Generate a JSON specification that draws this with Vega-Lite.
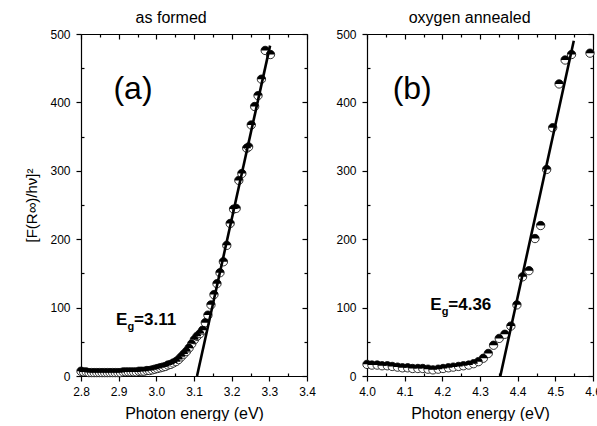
{
  "$schema": "https://vega.github.io/schema/vega-lite/v6.json",
  "padding": {"left": 24, "top": 10, "right": 0, "bottom": 0},
  "spacing": 19,
  "datasets": {
    "a": [
      {"E":2.800,"F":7},{"E":2.807,"F":6},{"E":2.814,"F":6},{"E":2.821,"F":5},{"E":2.828,"F":5},{"E":2.835,"F":5},{"E":2.842,"F":5},{"E":2.849,"F":5},{"E":2.856,"F":5},{"E":2.863,"F":5},{"E":2.870,"F":5},{"E":2.877,"F":5},{"E":2.884,"F":5},{"E":2.891,"F":5},{"E":2.898,"F":5},{"E":2.905,"F":5},{"E":2.912,"F":6},{"E":2.919,"F":6},{"E":2.926,"F":6},{"E":2.933,"F":6},{"E":2.940,"F":6},{"E":2.947,"F":6},{"E":2.954,"F":7},{"E":2.961,"F":7},{"E":2.968,"F":7},{"E":2.975,"F":8},{"E":2.982,"F":8},{"E":2.989,"F":9},{"E":2.996,"F":10},{"E":3.003,"F":11},{"E":3.010,"F":12},{"E":3.017,"F":13},{"E":3.024,"F":14},{"E":3.031,"F":16},{"E":3.038,"F":17},{"E":3.045,"F":19},{"E":3.052,"F":21},{"E":3.059,"F":24},{"E":3.066,"F":28},{"E":3.073,"F":32},{"E":3.080,"F":36},{"E":3.087,"F":41},{"E":3.094,"F":47},{"E":3.101,"F":53},{"E":3.108,"F":58},{"E":3.116,"F":62},{"E":3.123,"F":67},{"E":3.130,"F":78},{"E":3.137,"F":89},{"E":3.145,"F":104},{"E":3.153,"F":119},{"E":3.161,"F":135},{"E":3.169,"F":151},{"E":3.178,"F":167},{"E":3.187,"F":191},{"E":3.196,"F":223},{"E":3.205,"F":244},{"E":3.212,"F":245},{"E":3.219,"F":286},{"E":3.227,"F":296},{"E":3.240,"F":333},{"E":3.245,"F":335},{"E":3.252,"F":367},{"E":3.261,"F":394},{"E":3.270,"F":410},{"E":3.279,"F":434},{"E":3.289,"F":476},{"E":3.303,"F":470}
    ],
    "b": [
      {"E":4.000,"F":17},{"E":4.013,"F":16},{"E":4.027,"F":16},{"E":4.040,"F":15},{"E":4.054,"F":15},{"E":4.067,"F":14},{"E":4.081,"F":13},{"E":4.094,"F":12},{"E":4.108,"F":12},{"E":4.121,"F":11},{"E":4.135,"F":11},{"E":4.148,"F":11},{"E":4.162,"F":10},{"E":4.175,"F":9},{"E":4.189,"F":10},{"E":4.202,"F":11},{"E":4.216,"F":12},{"E":4.229,"F":13},{"E":4.243,"F":14},{"E":4.256,"F":15},{"E":4.270,"F":16},{"E":4.283,"F":18},{"E":4.296,"F":21},{"E":4.309,"F":26},{"E":4.322,"F":33},{"E":4.336,"F":45},{"E":4.351,"F":55},{"E":4.366,"F":61},{"E":4.382,"F":73},{"E":4.398,"F":104},{"E":4.413,"F":145},{"E":4.430,"F":154},{"E":4.446,"F":201},{"E":4.461,"F":220},{"E":4.477,"F":302},{"E":4.493,"F":363},{"E":4.510,"F":427},{"E":4.526,"F":462},{"E":4.543,"F":470},{"E":4.592,"F":472}
    ],
    "fitA": [{"E":3.108,"F":0},{"E":3.302,"F":483}],
    "fitB": [{"E":4.354,"F":0},{"E":4.549,"F":490}],
    "labA": [{"E":2.938,"F":420,"t":"(a)"}],
    "labB": [{"E":4.120,"F":420,"t":"(b)"}],
    "egA": [{"E":2.893,"F":74,"t":"E","s":"g","r":"=3.11"}],
    "egB": [{"E":4.168,"F":97,"t":"E","s":"g","r":"=4.36"}]
  },
  "hconcat": [
    {
      "width": 226,
      "height": 342,
      "title": {"text": "as formed", "fontSize": 16, "fontWeight": "normal", "offset": 2, "frame": "bounds", "dx": 1},
      "resolve": {"axis": {"x": "independent", "y": "independent"}},
      "layer": [
        {
          "data": {"name": "a"},
          "mark": {"type": "point", "shape": "circle", "filled": true, "fill": "white", "stroke": "black", "strokeWidth": 0.8, "size": 70, "opacity": 1},
          "encoding": {
            "x": {"field": "E", "type": "quantitative", "scale": {"domain": [2.8, 3.4], "nice": false, "zero": false},
              "axis": {"orient": "bottom", "title": "Photon energy (eV)", "values": [2.8,2.85,2.9,2.95,3.0,3.05,3.1,3.15,3.2,3.25,3.3,3.35,3.4],
                "labelExpr": "abs(datum.value*10 - round(datum.value*10)) < 0.01 ? format(datum.value, '.1f') : ''",
                "tickSize": {"condition": {"test": "abs(datum.value*10 - round(datum.value*10)) < 0.01", "value": 5}, "value": -3},
                "labelPadding": 5, "titlePadding": 8, "labelFlush": false, "labelOverlap": false}},
            "y": {"field": "F", "type": "quantitative", "scale": {"domain": [0, 500], "nice": false},
              "axis": {"orient": "left", "title": "[F(R∞)/hν]²", "titleFontSize": 15, "values": [0,50,100,150,200,250,300,350,400,450,500],
                "labelExpr": "datum.value % 100 == 0 ? format(datum.value, 'd') : ''",
                "tickSize": {"condition": {"test": "datum.value % 100 == 0", "value": 5}, "value": -3},
                "labelPadding": 6, "titlePadding": 10, "labelFlush": false, "labelOverlap": false}}
          }
        },
        {
          "data": {"name": "a"},
          "mark": {"type": "point", "shape": "M-1,0A1,1 0 0 1 1,0Z", "filled": true, "fill": "black", "strokeWidth": 0, "size": 70, "opacity": 1},
          "encoding": {
            "x": {"field": "E", "type": "quantitative",
              "axis": {"orient": "top", "title": null, "labels": false, "values": [2.8,2.85,2.9,2.95,3.0,3.05,3.1,3.15,3.2,3.25,3.3,3.35,3.4],
                "tickSize": {"condition": {"test": "abs(datum.value*10 - round(datum.value*10)) < 0.01", "value": -5}, "value": -3}}},
            "y": {"field": "F", "type": "quantitative",
              "axis": {"orient": "right", "title": null, "labels": false, "values": [0,50,100,150,200,250,300,350,400,450,500],
                "tickSize": {"condition": {"test": "datum.value % 100 == 0", "value": -5}, "value": -3}}}
          }
        },
        {
          "data": {"name": "fitA"},
          "mark": {"type": "line", "color": "black", "strokeWidth": 2.6},
          "encoding": {
            "x": {"field": "E", "type": "quantitative", "axis": null},
            "y": {"field": "F", "type": "quantitative", "axis": null}
          }
        },
        {
          "data": {"name": "labA"},
          "mark": {"type": "text", "fontSize": 32, "align": "center", "baseline": "middle", "color": "black"},
          "encoding": {
            "x": {"field": "E", "type": "quantitative", "axis": null},
            "y": {"field": "F", "type": "quantitative", "axis": null},
            "text": {"field": "t"}
          }
        },
        {
          "data": {"name": "egA"},
          "mark": {"type": "text", "fontSize": 17, "fontWeight": "bold", "align": "left", "baseline": "alphabetic", "color": "black"},
          "encoding": {
            "x": {"field": "E", "type": "quantitative", "axis": null},
            "y": {"field": "F", "type": "quantitative", "axis": null},
            "text": {"field": "t"}
          }
        },
        {
          "data": {"name": "egA"},
          "mark": {"type": "text", "fontSize": 11, "fontWeight": "bold", "align": "left", "baseline": "alphabetic", "dx": 11.5, "dy": 5, "color": "black"},
          "encoding": {
            "x": {"field": "E", "type": "quantitative", "axis": null},
            "y": {"field": "F", "type": "quantitative", "axis": null},
            "text": {"field": "s"}
          }
        },
        {
          "data": {"name": "egA"},
          "mark": {"type": "text", "fontSize": 17, "fontWeight": "bold", "align": "left", "baseline": "alphabetic", "dx": 18, "color": "black"},
          "encoding": {
            "x": {"field": "E", "type": "quantitative", "axis": null},
            "y": {"field": "F", "type": "quantitative", "axis": null},
            "text": {"field": "r"}
          }
        }
      ]
    },
    {
      "width": 226,
      "height": 342,
      "title": {"text": "oxygen annealed", "fontSize": 16, "fontWeight": "normal", "offset": 2, "frame": "bounds", "dx": 1},
      "resolve": {"axis": {"x": "independent", "y": "independent"}},
      "layer": [
        {
          "data": {"name": "b"},
          "mark": {"type": "point", "shape": "circle", "filled": true, "fill": "white", "stroke": "black", "strokeWidth": 0.8, "size": 70, "opacity": 1},
          "encoding": {
            "x": {"field": "E", "type": "quantitative", "scale": {"domain": [4.0, 4.6], "nice": false, "zero": false},
              "axis": {"orient": "bottom", "title": "Photon energy (eV)", "values": [4.0,4.05,4.1,4.15,4.2,4.25,4.3,4.35,4.4,4.45,4.5,4.55,4.6],
                "labelExpr": "abs(datum.value*10 - round(datum.value*10)) < 0.01 ? format(datum.value, '.1f') : ''",
                "tickSize": {"condition": {"test": "abs(datum.value*10 - round(datum.value*10)) < 0.01", "value": 5}, "value": -3},
                "labelPadding": 5, "titlePadding": 8, "labelFlush": false, "labelOverlap": false}},
            "y": {"field": "F", "type": "quantitative", "scale": {"domain": [0, 500], "nice": false},
              "axis": {"orient": "left", "title": null, "values": [0,50,100,150,200,250,300,350,400,450,500],
                "labelExpr": "datum.value % 100 == 0 ? format(datum.value, 'd') : ''",
                "tickSize": {"condition": {"test": "datum.value % 100 == 0", "value": 5}, "value": -3},
                "labelPadding": 6, "labelFlush": false, "labelOverlap": false}}
          }
        },
        {
          "data": {"name": "b"},
          "mark": {"type": "point", "shape": "M-1,0A1,1 0 0 1 1,0Z", "filled": true, "fill": "black", "strokeWidth": 0, "size": 70, "opacity": 1},
          "encoding": {
            "x": {"field": "E", "type": "quantitative",
              "axis": {"orient": "top", "title": null, "labels": false, "values": [4.0,4.05,4.1,4.15,4.2,4.25,4.3,4.35,4.4,4.45,4.5,4.55,4.6],
                "tickSize": {"condition": {"test": "abs(datum.value*10 - round(datum.value*10)) < 0.01", "value": -5}, "value": -3}}},
            "y": {"field": "F", "type": "quantitative",
              "axis": {"orient": "right", "title": null, "labels": false, "values": [0,50,100,150,200,250,300,350,400,450,500],
                "tickSize": {"condition": {"test": "datum.value % 100 == 0", "value": -5}, "value": -3}}}
          }
        },
        {
          "data": {"name": "fitB"},
          "mark": {"type": "line", "color": "black", "strokeWidth": 2.6},
          "encoding": {
            "x": {"field": "E", "type": "quantitative", "axis": null},
            "y": {"field": "F", "type": "quantitative", "axis": null}
          }
        },
        {
          "data": {"name": "labB"},
          "mark": {"type": "text", "fontSize": 32, "align": "center", "baseline": "middle", "color": "black"},
          "encoding": {
            "x": {"field": "E", "type": "quantitative", "axis": null},
            "y": {"field": "F", "type": "quantitative", "axis": null},
            "text": {"field": "t"}
          }
        },
        {
          "data": {"name": "egB"},
          "mark": {"type": "text", "fontSize": 17, "fontWeight": "bold", "align": "left", "baseline": "alphabetic", "color": "black"},
          "encoding": {
            "x": {"field": "E", "type": "quantitative", "axis": null},
            "y": {"field": "F", "type": "quantitative", "axis": null},
            "text": {"field": "t"}
          }
        },
        {
          "data": {"name": "egB"},
          "mark": {"type": "text", "fontSize": 11, "fontWeight": "bold", "align": "left", "baseline": "alphabetic", "dx": 11.5, "dy": 5, "color": "black"},
          "encoding": {
            "x": {"field": "E", "type": "quantitative", "axis": null},
            "y": {"field": "F", "type": "quantitative", "axis": null},
            "text": {"field": "s"}
          }
        },
        {
          "data": {"name": "egB"},
          "mark": {"type": "text", "fontSize": 17, "fontWeight": "bold", "align": "left", "baseline": "alphabetic", "dx": 18, "color": "black"},
          "encoding": {
            "x": {"field": "E", "type": "quantitative", "axis": null},
            "y": {"field": "F", "type": "quantitative", "axis": null},
            "text": {"field": "r"}
          }
        }
      ]
    }
  ],
  "config": {
    "font": "Liberation Sans",
    "view": {"stroke": null},
    "title": {"color": "black", "font": "Liberation Sans"},
    "text": {"font": "Liberation Sans"},
    "axis": {"domainColor": "black", "tickColor": "black", "labelColor": "black", "titleColor": "black", "grid": false,
      "labelFontSize": 12, "titleFontSize": 16, "titleFontWeight": "normal", "domainWidth": 1.2, "tickWidth": 1.2,
      "labelFont": "Liberation Sans", "titleFont": "Liberation Sans"}
  }
}
